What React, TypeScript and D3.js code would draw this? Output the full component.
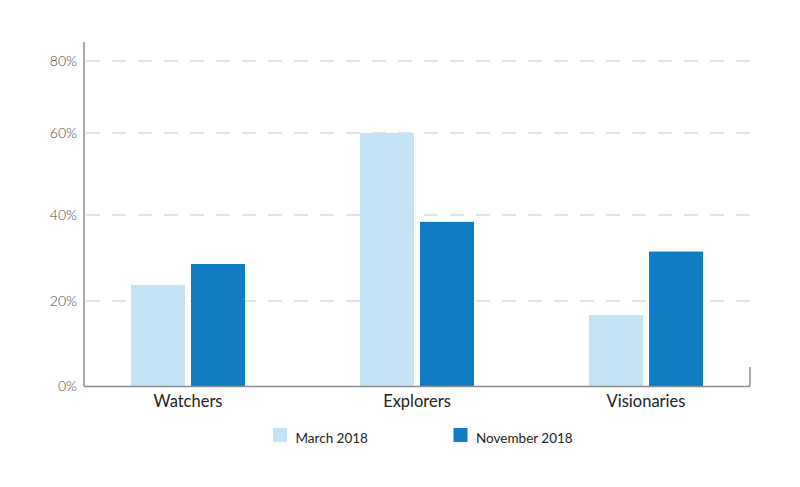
import React from "react";
import * as d3 from "d3";

const categories = ["Watchers", "Explorers", "Visionaries"];
const seriesNames = ["March 2018", "November 2018"];
const march2018 = [23.7, 60, 16.7];
const november2018 = [28.6, 38.4, 31.5];
const yTicks = [0, 20, 40, 60, 80];
const yTickLabels = ["0%", "20%", "40%", "60%", "80%"];

const colors = ["#c3e3f6", "#107cc4"];
const W = 800;
const H = 487;

export default function App() {
  // piecewise y scale as drawn in the reference
  const y = d3.scaleLinear().domain([0, 20, 40, 60, 80]).range([386.5, 301, 215, 133, 61]);
  const x = d3.scaleBand().domain(categories).range([73.5, 760.5]).padding(0);
  const x1 = d3
    .scaleBand()
    .domain(seriesNames)
    .range([0, x.bandwidth()])
    .paddingInner(0.1)
    .paddingOuter(0.958);
  const values = [march2018, november2018];
  const axisX = 84;
  const rightX = 750;
  const font = "'Myriad Pro', Lato, 'Open Sans', sans-serif";

  return (
    <svg
      width={W}
      height={H}
      style={{ position: "absolute", left: 0, top: 0, background: "#fff" }}
    >
      {/* gridlines */}
      {yTicks.slice(1).map((t) => (
        <line
          key={t}
          x1={axisX + 2}
          x2={rightX}
          y1={y(t)}
          y2={y(t)}
          stroke="#c8c8c8"
          strokeWidth={1}
          strokeDasharray="14 12"
        />
      ))}
      {/* bars */}
      {categories.map((c, ci) =>
        seriesNames.map((s, si) => {
          const v = values[si][ci];
          return (
            <rect
              key={c + s}
              x={(x(c) as number) + (x1(s) as number)}
              y={y(v)}
              width={x1.bandwidth()}
              height={y(0) - y(v)}
              fill={colors[si]}
            />
          );
        })
      )}
      {/* axes */}
      <line x1={axisX} x2={axisX} y1={42} y2={y(0)} stroke="#8c8c8c" strokeWidth={1.5} />
      <line x1={axisX} x2={rightX} y1={y(0)} y2={y(0)} stroke="#8c8c8c" strokeWidth={1.5} />
      <line x1={rightX} x2={rightX} y1={367} y2={y(0)} stroke="#8c8c8c" strokeWidth={1.5} />
      {/* y tick labels */}
      {yTicks.map((t, i) => (
        <text
          key={t}
          x={77}
          y={y(t)}
          dy="0.35em"
          textAnchor="end"
          fontFamily={font}
          fontSize={14}
          fill="#4a4a4a"
          fontWeight={300}
        >
          {yTickLabels[i]}
        </text>
      ))}
      {/* category labels */}
      {categories.map((c) => (
        <text
          key={c}
          x={(x(c) as number) + x.bandwidth() / 2}
          y={407}
          textAnchor="middle"
          fontFamily={font}
          fontSize={16.5}
          fill="#222"
        >
          {c}
        </text>
      ))}
      {/* legend */}
      {seriesNames.map((s, i) => {
        const lx = i === 0 ? 273 : 453.5;
        return (
          <g key={s} transform={`translate(${lx},428)`}>
            <rect width={14} height={14} fill={colors[i]} />
            <text x={22.5} y={14.5} fontFamily={font} fontSize={13.5} fill="#222">
              {s}
            </text>
          </g>
        );
      })}
    </svg>
  );
}
